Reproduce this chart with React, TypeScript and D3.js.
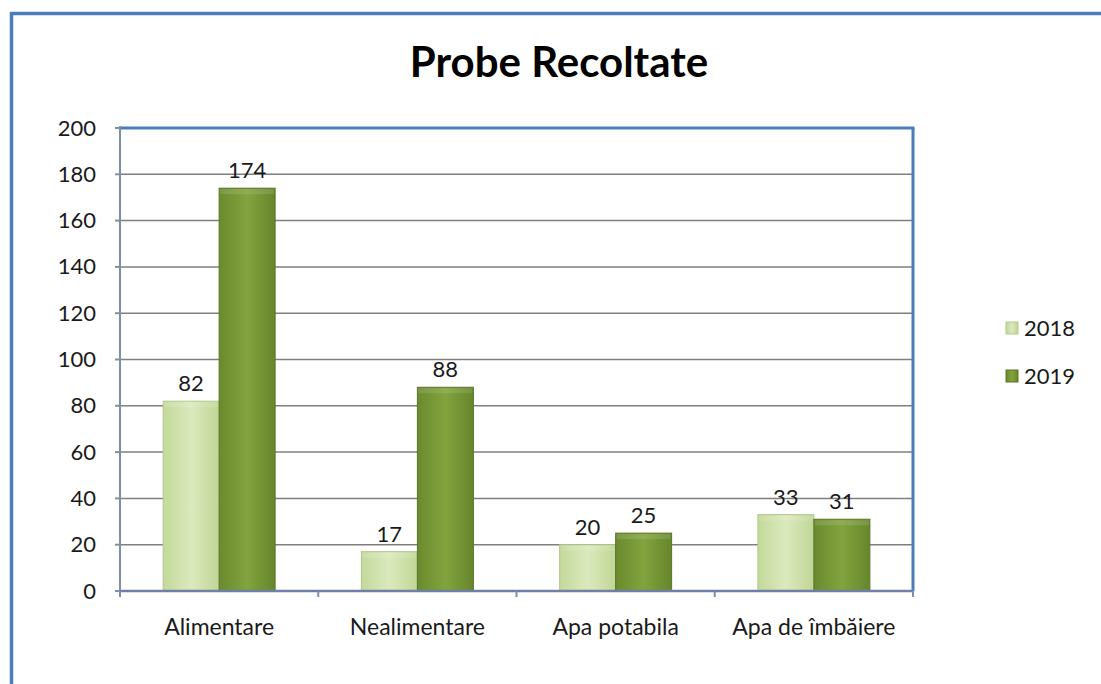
import React from "react";
import * as d3 from "d3";

const categories = ["Alimentare", "Nealimentare", "Apa potabila", "Apa de îmbăiere"];
const series = ["2018", "2019"];
const values2018 = [82, 17, 20, 33];
const values2019 = [174, 88, 25, 31];
const yTicks = [0, 20, 40, 60, 80, 100, 120, 140, 160, 180, 200];
const title = "Probe Recoltate";

const W = 1101;
const H = 684;
const FONT = "Lato, 'Open Sans', sans-serif";

export default function App() {
  const left = 120, right = 913, top = 128, bottom = 591;
  const x = d3.scaleBand<string>().domain(categories).range([left, right]).paddingInner(0).paddingOuter(0);
  const y = d3.scaleLinear().domain([0, 200]).range([bottom, top]);
  const groupW = 112;
  const xs = d3.scaleBand<string>().domain(series).range([0, groupW]).padding(0);
  const data = [values2018, values2019];
  const fills = ["url(#g2018)", "url(#g2019)"];
  const strokes = ["#b3c98a", "#5a7528"];

  return (
    <svg width={W} height={H} style={{ position: "absolute", left: 0, top: 0, background: "#fff" }}>
      <defs>
        <linearGradient id="g2018" x1="0" x2="1" y1="0" y2="0">
          <stop offset="0" stopColor="#c3d99a" />
          <stop offset="0.5" stopColor="#dbe9bd" />
          <stop offset="1" stopColor="#c0d695" />
        </linearGradient>
        <linearGradient id="g2019" x1="0" x2="1" y1="0" y2="0">
          <stop offset="0" stopColor="#6a8a2e" />
          <stop offset="0.5" stopColor="#82a33e" />
          <stop offset="1" stopColor="#66862b" />
        </linearGradient>
      </defs>
      <rect x={0} y={0} width={W} height={H} fill="#fff" />
      {/* outer border */}
      <line x1={11.5} y1={12} x2={11.5} y2={H} stroke="#4a7ebb" strokeWidth={3.5} />
      <line x1={10} y1={13.5} x2={W} y2={13.5} stroke="#4a7ebb" strokeWidth={3.5} />
      {/* title */}
      <text x={559} y={77} textAnchor="middle" fontFamily={FONT} fontWeight="bold" fontSize={42} fill="#000">{title}</text>
      {/* gridlines */}
      {yTicks.filter(t => t > 0).map(t => (
        <line key={t} x1={left} x2={right} y1={y(t)} y2={y(t)} stroke="#7f7f7f" strokeWidth={1.5} />
      ))}
      {/* plot border top/right */}
      <line x1={left} x2={right + 1.5} y1={top} y2={top} stroke="#4a7ebb" strokeWidth={3} />
      <line x1={right} x2={right} y1={top} y2={bottom} stroke="#4a7ebb" strokeWidth={3} />
      {/* bars */}
      {categories.map((c, i) => {
        const cx = (x(c) as number) + x.bandwidth() / 2;
        const gx = cx - groupW / 2;
        return series.map((s, j) => {
          const v = data[j][i];
          const bx = gx + (xs(s) as number);
          return (
            <g key={c + s}>
              <rect x={bx} y={y(v)} width={xs.bandwidth()} height={bottom - y(v)} fill={fills[j]} stroke={strokes[j]} strokeWidth={1} />
              <rect x={bx + 1} y={y(v) + 1} width={xs.bandwidth() - 2} height={Math.min(5, bottom - y(v) - 1)} fill="#fff" opacity={0.12} />
            </g>
          );
        });
      })}
      {/* value labels */}
      {categories.map((c, i) => {
        const cx = (x(c) as number) + x.bandwidth() / 2;
        const gx = cx - groupW / 2;
        return series.map((s, j) => {
          const v = data[j][i];
          const bx = gx + (xs(s) as number) + xs.bandwidth() / 2;
          return (
            <text key={"l" + c + s} x={bx} y={y(v) - 10} textAnchor="middle" fontFamily={FONT} fontSize={22} fill="#1a1a1a">{v}</text>
          );
        });
      })}
      {/* y axis */}
      <line x1={left} x2={left} y1={top - 2} y2={bottom + 4} stroke="#7f8fa6" strokeWidth={2} />
      {yTicks.map(t => (
        <g key={"t" + t}>
          <line x1={left - 5} x2={left} y1={y(t)} y2={y(t)} stroke="#7f8fa6" strokeWidth={2} />
          <text x={96} y={y(t) + 7.5} textAnchor="end" fontFamily={FONT} fontSize={22} fill="#1a1a1a">{t}</text>
        </g>
      ))}
      {/* x axis */}
      <line x1={left} x2={right} y1={bottom} y2={bottom} stroke="#6f7fa8" strokeWidth={2.5} />
      {[...categories.map(c => x(c) as number), right].map((tx, k) => (
        <line key={"xt" + k} x1={tx} x2={tx} y1={bottom} y2={bottom + 6} stroke="#7f8fa6" strokeWidth={2} />
      ))}
      {categories.map(c => (
        <text key={"c" + c} x={(x(c) as number) + x.bandwidth() / 2} y={635} textAnchor="middle" fontFamily={FONT} fontSize={23} fill="#1a1a1a">{c}</text>
      ))}
      {/* legend */}
      {series.map((s, j) => (
        <g key={"lg" + s}>
          <rect x={1006} y={(j === 0 ? 328 : 376) - 6} width={12} height={12} fill={fills[j]} stroke={strokes[j]} strokeWidth={1} />
          <text x={1024} y={(j === 0 ? 328 : 376) + 8} fontFamily={FONT} fontSize={22} fill="#1a1a1a">{s}</text>
        </g>
      ))}
    </svg>
  );
}
